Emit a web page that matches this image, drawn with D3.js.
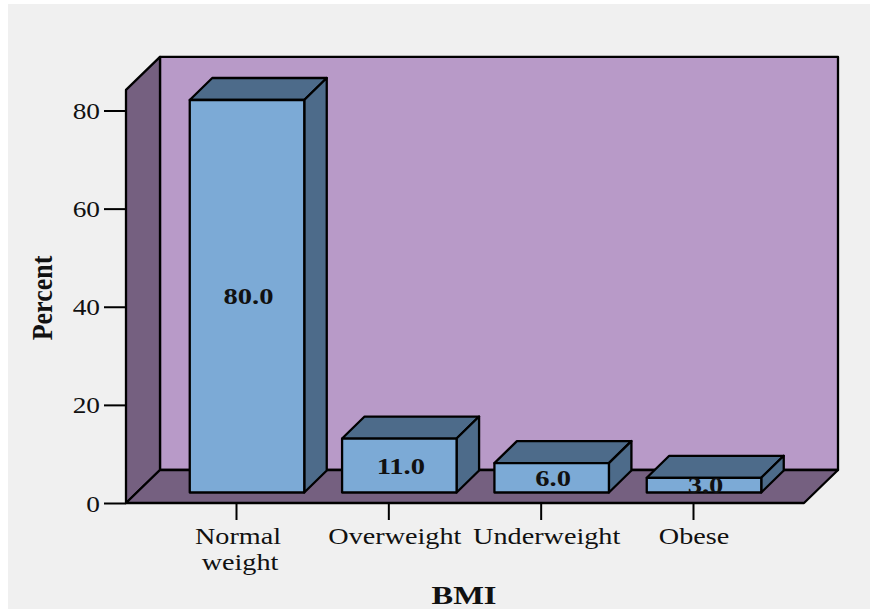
<!DOCTYPE html>
<html>
<head>
<meta charset="utf-8">
<script src="https://cdn.jsdelivr.net/npm/d3@7"></script>
<style>
  html, body { margin: 0; padding: 0; background: #fff; }
  svg { display: block; }
  text { font-family: "Liberation Serif", serif; fill: #111; }
</style>
</head>
<body>
<svg id="chart" width="870" height="609"></svg>
<script>
const categories = ['Normal weight', 'Overweight', 'Underweight', 'Obese'];
const percents = [80.0, 11.0, 6.0, 3.0];
const yTicks = [0, 20, 40, 60, 80];
const yTop = 84.2;   // where the walls end on the axis

const COLORS = {
  page: '#f0f0f0',
  wall: '#b89ac8',
  shade: '#756080',
  front: '#7caad6',
  barDark: '#4d6b8a',
};

const svg = d3.select('#chart');

svg.append('rect')
  .attr('x', 8).attr('y', 4)
  .attr('width', 862).attr('height', 605)
  .attr('fill', COLORS.page);

const y = d3.scaleLinear().domain([0, 80]).range([503, 110.5]);
const x = d3.scalePoint().domain(categories).range([236, 693]);

// plot box
const left = 126, right = 804, depthX = 34, depthY = 33;
const y0 = y(0), yT = y(yTop);

function poly(points, fill, sw) {
  svg.append('path')
    .attr('d', d3.line()(points) + 'Z')
    .attr('fill', fill)
    .attr('stroke', '#000')
    .attr('stroke-width', sw)
    .attr('stroke-linejoin', 'round');
}

poly([[left + depthX, yT - depthY], [right + depthX, yT - depthY], [right + depthX, y0 - depthY], [left + depthX, y0 - depthY]], COLORS.wall, 2.3);
poly([[left, yT], [left + depthX, yT - depthY], [left + depthX, y0 - depthY], [left, y0]], COLORS.shade, 2.3);
poly([[left, y0], [left + depthX, y0 - depthY], [right + depthX, y0 - depthY], [right, y0]], COLORS.shade, 2.3);

// the source picture is stretched sideways, text too
function stretched(sel, px, py, sx) {
  sel.attr('x', 0).attr('y', 0).attr('dy', null)
    .attr('transform', `translate(${px},${py}) scale(${sx},1)`);
}

// axes
const yAxis = svg.append('g')
  .attr('transform', `translate(${left},0)`)
  .call(d3.axisLeft(y).tickValues(yTicks).tickSize(22).tickSizeOuter(0));
yAxis.select('.domain').remove();
yAxis.selectAll('line').attr('stroke', '#000').attr('stroke-width', 2);
yAxis.selectAll('.tick text')
  .attr('font-size', 24).attr('text-anchor', 'end')
  .attr('font-family', '"Liberation Serif", serif')
  .attr('fill', '#111')
  .each(function () { stretched(d3.select(this), -26, 8, 1.14); });

const xAxis = svg.append('g')
  .attr('transform', `translate(0,${y0})`)
  .call(d3.axisBottom(x).tickSize(17).tickSizeOuter(0).tickFormat(''));
xAxis.select('.domain').remove();
xAxis.selectAll('line').attr('stroke', '#000').attr('stroke-width', 2);

// label centres do not sit on the ticks in the source
const labelShift = [2, 6.5, 6, 1];
categories.forEach((c, k) => {
  c.split(c === 'Normal weight' ? ' ' : '\n').forEach((line, i) => {
    const t = svg.append('text')
      .attr('font-size', 23.5).attr('text-anchor', 'middle').text(line);
    stretched(t, x(c) + labelShift[k] + i * 2, 544 + i * 26, 1.2);
  });
});

// bars
const barW = 114.5, barOffX = 11, barBase = 10.5, barDX = 22.5, barDY = 22;

percents.forEach((v, i) => {
  const xl = x(categories[i]) - barW / 2 + barOffX;
  const xr = xl + barW;
  const yb = y(0) - barBase;
  const yt = y(v) - barBase;
  poly([[xl, yt], [xl + barDX, yt - barDY], [xr + barDX, yt - barDY], [xr, yt]], COLORS.barDark, 2.3);
  poly([[xr, yt], [xr + barDX, yt - barDY], [xr + barDX, yb - barDY], [xr, yb]], COLORS.barDark, 2.3);
  poly([[xl, yt], [xr, yt], [xr, yb], [xl, yb]], COLORS.front, 2.3);
  const t = svg.append('text')
    .attr('font-size', 24).attr('font-weight', 'bold')
    .attr('text-anchor', 'middle').text(v.toFixed(1));
  stretched(t, (xl + xr) / 2 + 1.5, (yt + yb) / 2 + 8, 1.19);
});

// axis titles
const xTitle = svg.append('text')
  .attr('font-size', 26).attr('font-weight', 'bold')
  .attr('text-anchor', 'middle').text('BMI');
stretched(xTitle, 464, 603.5, 1.25);

svg.append('text')
  .attr('font-size', 26).attr('font-weight', 'bold')
  .attr('text-anchor', 'middle')
  .attr('transform', 'translate(52,298) scale(1.14,1) rotate(-90)')
  .text('Percent');
</script>
</body>
</html>
